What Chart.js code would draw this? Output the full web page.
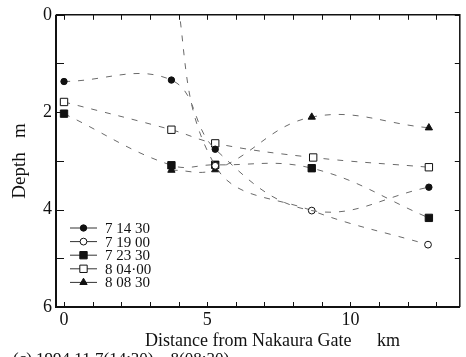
<!DOCTYPE html>
<html>
<head>
<meta charset="utf-8">
<script src="https://cdn.jsdelivr.net/npm/chart.js@4/dist/chart.umd.min.js"></script>
<style>
  html, body { margin: 0; padding: 0; background: #fff; }
  #wrap { width: 466px; height: 357px; position: relative; }
</style>
</head>
<body>
<div id="wrap"><canvas id="c" width="466" height="357"></canvas></div>
<script>
// Surveyed depth profiles along the channel (distance km, depth m)
const seriesLabels = ['7 14 30', '7 19 00', '7 23 30', '8 04\u00b700', '8 08 30'];

const t0714 = [[0, 1.37], [3.75, 1.34], [5.28, 2.76], [8.65, 4.02], [12.74, 3.54]];
const t0719 = [[3.75, -1.0], [5.28, 3.10], [8.65, 4.02], [12.71, 4.72]];
const t0723 = [[0, 2.03], [3.75, 3.09], [5.28, 3.08], [8.65, 3.15], [12.74, 4.17]];
const t0804 = [[0, 1.79], [3.75, 2.36], [5.28, 2.64], [8.70, 2.93], [12.74, 3.13]];
const t0808 = [[3.75, 3.19], [5.28, 3.18], [8.65, 2.10], [12.74, 2.32]];

const xTickLabels = [0, 5, 10];
const yTickLabels = [0, 2, 4, 6];

const xTitleMain = 'Distance from Nakaura Gate';
const xTitleUnit = 'km';
const captionText = '(c) 1994.11.7(14:30) \u2013 8(08:30)';

const SERIF = '"Liberation Serif", "DejaVu Serif", serif';
const INK = '#111';
const LINE = '#6a6a6a';

function pts(arr) { return arr.map(p => ({ x: p[0], y: p[1] })); }

const markerStyle = [
  { style: 'circle',   fill: INK,    r: 3.2 },
  { style: 'circle',   fill: '#fff', r: 3.4 },
  { style: 'rect',     fill: INK,    r: 5.2 },
  { style: 'rect',     fill: '#fff', r: 5.2 },
  { style: 'triangle', fill: INK,    r: 4.2 }
];

function ds(i, data, radii) {
  const m = markerStyle[i];
  return {
    label: seriesLabels[i],
    data: pts(data),
    borderColor: LINE,
    borderWidth: 1,
    borderDash: [6, 8],
    tension: 0.4,
    pointStyle: m.style,
    pointRadius: radii || m.r,
    pointBackgroundColor: m.fill,
    pointBorderColor: INK,
    pointBorderWidth: 1,
    fill: false
  };
}

// Frame, inward tick marks, legend, x-axis title and caption
const decor = {
  id: 'decor',
  afterDraw(chart) {
    const ctx = chart.ctx;
    const a = chart.chartArea;
    const xs = chart.scales.x, ys = chart.scales.y;
    ctx.save();
    ctx.strokeStyle = INK;

    // tick marks on all four sides, pointing inward
    ctx.lineWidth = 1;
    ctx.beginPath();
    for (let v = 0; v <= 13; v++) {
      const px = Math.round(xs.getPixelForValue(v)) + 0.5;
      ctx.moveTo(px, a.bottom); ctx.lineTo(px, a.bottom - 5);
      ctx.moveTo(px, a.top); ctx.lineTo(px, a.top + 5);
    }
    for (let v = 0; v <= 6; v++) {
      const py = Math.round(ys.getPixelForValue(v)) + 0.5;
      ctx.moveTo(a.left, py); ctx.lineTo(a.left + 8, py);
      ctx.moveTo(a.right, py); ctx.lineTo(a.right - 5, py);
    }
    ctx.stroke();

    // frame
    ctx.lineWidth = 2;
    ctx.beginPath();
    ctx.moveTo(a.left, a.top); ctx.lineTo(a.left, a.bottom); ctx.lineTo(a.right, a.bottom);
    ctx.stroke();
    ctx.lineWidth = 1.5;
    ctx.beginPath();
    ctx.moveTo(a.left, a.top); ctx.lineTo(a.right, a.top); ctx.lineTo(a.right, a.bottom);
    ctx.stroke();

    // legend
    const lx0 = a.left + 14, lx1 = a.left + 41, tx = a.left + 49;
    const ly = 228;
    ctx.font = '15px ' + SERIF;
    ctx.textBaseline = 'middle';
    seriesLabels.forEach((lab, i) => {
      const y = ly + i * 13.6;
      ctx.lineWidth = 1;
      ctx.strokeStyle = '#333';
      ctx.beginPath(); ctx.moveTo(lx0, y); ctx.lineTo(lx1, y); ctx.stroke();
      const m = markerStyle[i];
      ctx.fillStyle = m.fill;
      ctx.strokeStyle = INK;
      Chart.helpers.drawPoint(ctx, { pointStyle: m.style, radius: m.r, rotation: 0, borderWidth: 1 }, (lx0 + lx1) / 2, y);
      ctx.fillStyle = INK;
      ctx.fillText(lab, tx, y + 1);
    });

    // x-axis title: name, then unit set well apart
    ctx.font = '18px ' + SERIF;
    ctx.textBaseline = 'middle';
    ctx.fillStyle = INK;
    ctx.fillText(xTitleMain, 145, 341);
    ctx.fillText(xTitleUnit, 377, 341);

    // caption running off the lower edge
    ctx.font = '17px ' + SERIF;
    ctx.textBaseline = 'alphabetic';
    ctx.fillText(captionText, 13, 364);
    ctx.restore();
  }
};

new Chart(document.getElementById('c'), {
  type: 'line',
  data: {
    datasets: [
      ds(0, t0714, [3.2, 3.2, 3.2, 0, 3.2]),
      ds(1, t0719, [0, 3.4, 3.4, 3.4]),
      ds(2, t0723),
      ds(3, t0804),
      ds(4, t0808)
    ]
  },
  options: {
    responsive: false,
    animation: false,
    events: [],
    layout: { padding: { top: 12, right: 4, left: 0, bottom: 0 } },
    plugins: { legend: { display: false }, tooltip: { enabled: false } },
    scales: {
      x: {
        type: 'linear',
        min: -0.28, max: 13.82,
        grid: { display: false, drawTicks: false },
        border: { display: false },
        afterFit(s) { s.height = 50; },
        afterBuildTicks(s) { s.ticks = xTickLabels.map(v => ({ value: v })); },
        ticks: {
          autoSkip: false, maxRotation: 0, padding: 2,
          color: INK, font: { family: SERIF, size: 18 },
          callback: v => String(v)
        }
      },
      y: {
        type: 'linear',
        reverse: true,
        min: 0, max: 6,
        grid: { display: false, drawTicks: false },
        border: { display: false },
        afterFit(s) { s.width = 56; },
        afterBuildTicks(s) { s.ticks = yTickLabels.map(v => ({ value: v })); },
        ticks: {
          autoSkip: false, padding: 4,
          color: INK, font: { family: SERIF, size: 18 },
          callback: v => String(v)
        },
        title: {
          display: true, text: 'Depth   m',
          color: INK, font: { family: SERIF, size: 19 },
          padding: { top: 9, bottom: 0 }
        }
      }
    }
  },
  plugins: [decor]
});
</script>
</body>
</html>
